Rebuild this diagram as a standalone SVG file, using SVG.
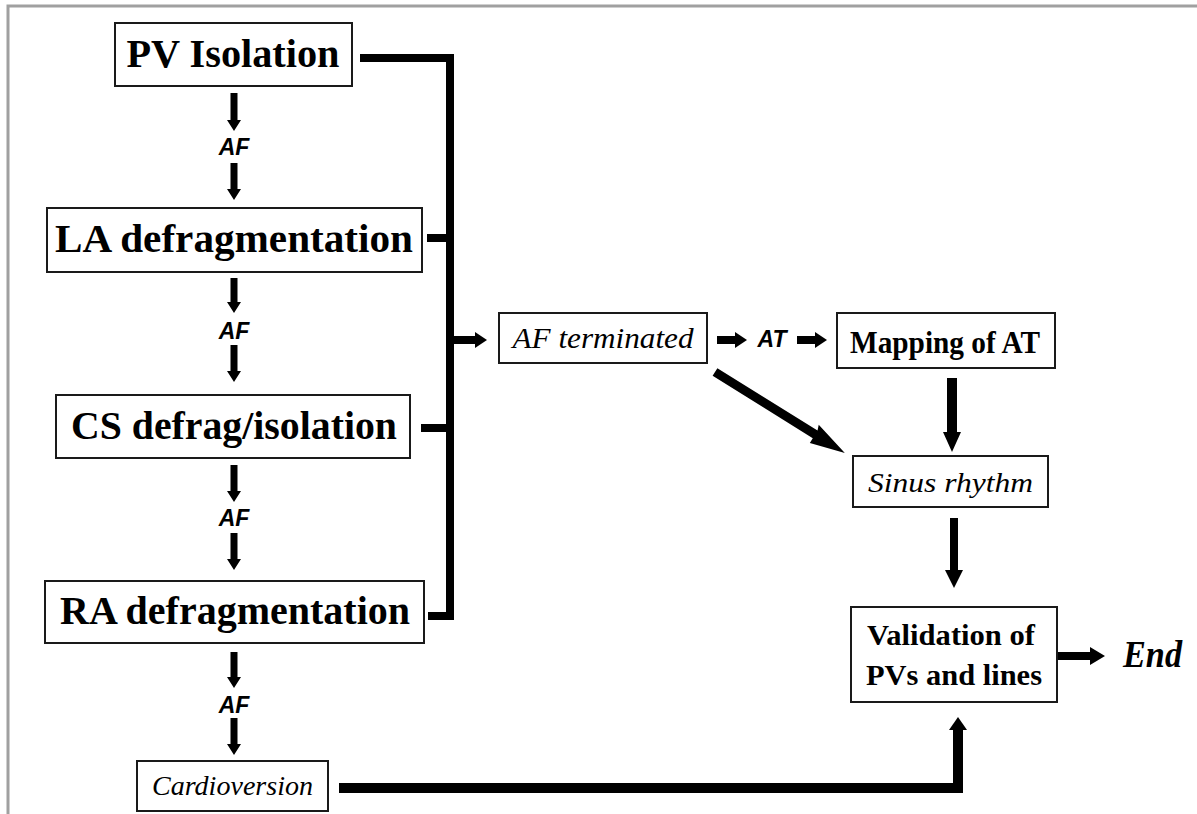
<svg xmlns="http://www.w3.org/2000/svg" width="1197" height="814" viewBox="0 0 1197 814">
<style>
.box{fill:#fff;stroke:#1a1a1a;stroke-width:2}
.tb{font-family:"Times New Roman","Liberation Serif",Times,serif;font-weight:bold;fill:#000;text-anchor:middle}
.ti{font-family:"Times New Roman","Liberation Serif",Times,serif;font-style:italic;fill:#000;text-anchor:middle}
.lbl{font-family:Arial,"Liberation Sans",sans-serif;font-weight:bold;font-style:italic;fill:#000;text-anchor:middle}
.ar{fill:#000}
</style>
<rect width="1197" height="814" fill="#fff"/>
<g id="frame" fill="none" stroke="#a0a0a0" stroke-width="3">
<path d="M1197,6 H8 V814"/>
</g>
<g id="connectors">
<polygon class="ar" points="230.5,93 237.5,93 237.5,120 241,120 234,131 227,120 230.5,120"/>
<polygon class="ar" points="230.5,163 237.5,163 237.5,189 241,189 234,200 227,189 230.5,189"/>
<polygon class="ar" points="230.5,278 237.5,278 237.5,302 241,302 234,313 227,302 230.5,302"/>
<polygon class="ar" points="230.5,345 237.5,345 237.5,371 241,371 234,382 227,371 230.5,371"/>
<polygon class="ar" points="230.5,465 237.5,465 237.5,491 241,491 234,502 227,491 230.5,491"/>
<polygon class="ar" points="230.5,533 237.5,533 237.5,559 241,559 234,570 227,559 230.5,559"/>
<polygon class="ar" points="230.5,652 237.5,652 237.5,677 241,677 234,688 227,677 230.5,677"/>
<polygon class="ar" points="230.5,718 237.5,718 237.5,744 241,744 234,755 227,744 230.5,744"/>
<path d="M360,58 H450 V616 H428 M427,238 H450 M421,428 H450" fill="none" stroke="#000" stroke-width="8"/>
<polygon class="ar" points="450,336 475,336 475,332 487,340 475,348 475,344 450,344"/>
<polygon class="ar" points="717,336 735,336 735,332 747,340 735,348 735,344 717,344"/>
<polygon class="ar" points="797,336 815,336 815,332 827,340 815,348 815,344 797,344"/>
<polygon class="ar" transform="translate(715,372) rotate(31.93)" points="0,-4.5 118,-4.5 116,-10 153,0 118,10 118,4.5 0,4.5"/>
<polygon class="ar" points="947,378 957,378 957,432 961,432 952,452 943,432 947,432"/>
<polygon class="ar" points="950,518 958,518 958,570 963,570 954,588 945,570 950,570"/>
<polygon class="ar" points="1057,652 1090,652 1090,647 1105,656 1090,665 1090,660 1057,660"/>
<path d="M339,788 H958 V728" fill="none" stroke="#000" stroke-width="10"/>
<polygon class="ar" points="949,730 967,730 958,717"/>
</g>
<g id="pv"><rect class="box" x="115" y="23" width="237" height="63"/><text class="tb" x="233" y="67" font-size="40" textLength="213" lengthAdjust="spacingAndGlyphs">PV Isolation</text></g>
<g id="af1"><text class="lbl" x="234" y="155" font-size="23">AF</text></g>
<g id="la"><rect class="box" x="47" y="208" width="375" height="64"/><text class="tb" x="234" y="252" font-size="40" textLength="358" lengthAdjust="spacingAndGlyphs">LA defragmentation</text></g>
<g id="af2"><text class="lbl" x="234" y="339" font-size="23">AF</text></g>
<g id="cs"><rect class="box" x="56" y="395" width="354" height="63"/><text class="tb" x="234" y="439" font-size="40" textLength="326" lengthAdjust="spacingAndGlyphs">CS defrag/isolation</text></g>
<g id="af3"><text class="lbl" x="234" y="526" font-size="23">AF</text></g>
<g id="ra"><rect class="box" x="45" y="581" width="379" height="62"/><text class="tb" x="235" y="624" font-size="40" textLength="350" lengthAdjust="spacingAndGlyphs">RA defragmentation</text></g>
<g id="af4"><text class="lbl" x="234" y="713" font-size="23">AF</text></g>
<g id="cardio"><rect class="box" x="137" y="761" width="191" height="50"/><text class="ti" x="232.5" y="795" font-size="28" textLength="161" lengthAdjust="spacingAndGlyphs">Cardioversion</text></g>
<g id="afterm"><rect class="box" x="499" y="313" width="208" height="50"/><text class="ti" x="603" y="348" font-size="29" textLength="181" lengthAdjust="spacingAndGlyphs">AF terminated</text></g>
<g id="at"><text class="lbl" x="772" y="347" font-size="23">AT</text></g>
<g id="mapping"><rect class="box" x="837" y="313" width="218" height="55"/><text class="tb" x="945" y="353" font-size="31" textLength="190" lengthAdjust="spacingAndGlyphs">Mapping of AT</text></g>
<g id="sinus"><rect class="box" x="853" y="456" width="195" height="51"/><text class="ti" x="950.5" y="492" font-size="28" textLength="165" lengthAdjust="spacingAndGlyphs">Sinus rhythm</text></g>
<g id="validation"><rect class="box" x="851" y="607" width="206" height="95"/><text class="tb" x="951" y="645" font-size="30" textLength="168" lengthAdjust="spacingAndGlyphs">Validation of</text><text class="tb" x="954" y="685" font-size="30" textLength="176" lengthAdjust="spacingAndGlyphs">PVs and lines</text></g>
<g id="end"><text class="ti" x="1152.5" y="667" font-size="38" font-weight="bold" textLength="59" lengthAdjust="spacingAndGlyphs">End</text></g>
</svg>
